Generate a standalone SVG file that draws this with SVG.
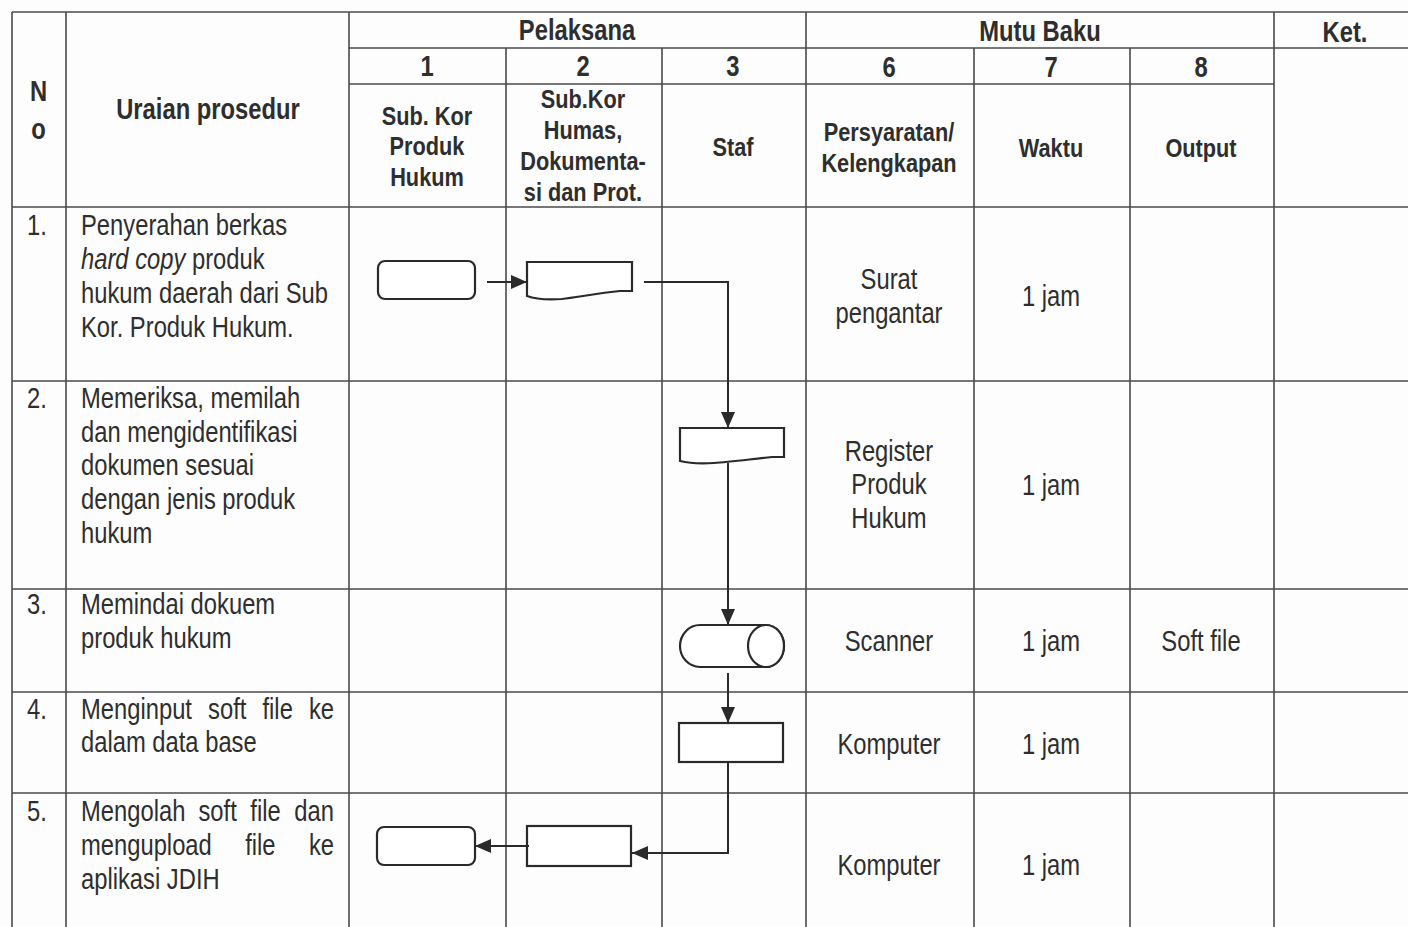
<svg xmlns="http://www.w3.org/2000/svg" width="1408" height="927" viewBox="0 0 1408 927">
<style>
.grid{stroke:#4a4a4a;stroke-width:1.6;fill:none}
.shape{stroke:#2a2a2a;stroke-width:2.2;fill:#ffffff}
.conn{stroke:#2a2a2a;stroke-width:2;fill:none}
text{font-family:"Liberation Sans",Arial,sans-serif;fill:#2e2e2e}
.h{font-weight:bold;font-size:29px;text-anchor:middle}
.hs{font-weight:bold;font-size:26.5px;text-anchor:middle}
.t{font-size:29px}
.c{font-size:29px;text-anchor:middle}
</style>
<defs>
<marker id="arr" viewBox="0 0 16 14" refX="16" refY="7" markerWidth="16" markerHeight="14" markerUnits="userSpaceOnUse" orient="auto">
<path d="M0,0 L16,7 L0,14 Z" fill="#2a2a2a"/>
</marker>
</defs>
<rect x="0" y="0" width="1408" height="927" fill="#fdfdfd"/>
<g id="table-grid" class="grid">
<line x1="12" y1="12" x2="1408" y2="12"/>
<line x1="349" y1="48" x2="1408" y2="48"/>
<line x1="349" y1="84" x2="1274" y2="84"/>
<line x1="12" y1="207" x2="1408" y2="207"/>
<line x1="12" y1="381" x2="1408" y2="381"/>
<line x1="12" y1="589" x2="1408" y2="589"/>
<line x1="12" y1="692" x2="1408" y2="692"/>
<line x1="12" y1="793" x2="1408" y2="793"/>
<line x1="12" y1="12" x2="12" y2="927"/>
<line x1="66" y1="12" x2="66" y2="927"/>
<line x1="349" y1="12" x2="349" y2="927"/>
<line x1="506" y1="48" x2="506" y2="927"/>
<line x1="662" y1="48" x2="662" y2="927"/>
<line x1="806" y1="12" x2="806" y2="927"/>
<line x1="974" y1="48" x2="974" y2="927"/>
<line x1="1130" y1="48" x2="1130" y2="927"/>
<line x1="1274" y1="12" x2="1274" y2="927"/>
</g>
<g id="header" transform="scale(0.82 1)">
<text class="h" x="47" y="101">N</text>
<text class="h" x="47" y="139">o</text>
<text class="h" x="253.66" y="119">Uraian prosedur</text>
<text class="h" x="703.66" y="40">Pelaksana</text>
<text class="h" x="1268.29" y="41">Mutu Baku</text>
<text class="h" x="1640.24" y="42">Ket.</text>
<text class="h" x="520.73" y="76">1</text>
<text class="h" x="710.98" y="76">2</text>
<text class="h" x="893.90" y="76">3</text>
<text class="h" x="1084.15" y="77">6</text>
<text class="h" x="1281.71" y="77">7</text>
<text class="h" x="1464.63" y="77">8</text>
<text class="hs" x="520.73" y="125">Sub. Kor</text>
<text class="hs" x="520.73" y="155">Produk</text>
<text class="hs" x="520.73" y="186">Hukum</text>
<text class="hs" x="710.98" y="108">Sub.Kor</text>
<text class="hs" x="710.98" y="139">Humas,</text>
<text class="hs" x="710.98" y="170">Dokumenta-</text>
<text class="hs" x="710.98" y="201">si dan Prot.</text>
<text class="hs" x="893.90" y="156">Staf</text>
<text class="hs" x="1084.15" y="141">Persyaratan/</text>
<text class="hs" x="1084.15" y="172">Kelengkapan</text>
<text class="hs" x="1281.71" y="157">Waktu</text>
<text class="hs" x="1464.63" y="157">Output</text>
</g>
<g id="row1" transform="scale(0.82 1)">
<text class="t" x="32.93" y="235">1.</text>
<text class="t" x="98.78" y="235">Penyerahan berkas</text>
<text class="t" x="98.78" y="269"><tspan font-style="italic">hard copy</tspan> produk</text>
<text class="t" x="98.78" y="303">hukum daerah dari Sub</text>
<text class="t" x="98.78" y="337">Kor. Produk Hukum.</text>
<text class="c" x="1084.15" y="289">Surat</text>
<text class="c" x="1084.15" y="323">pengantar</text>
<text class="c" x="1281.71" y="306">1 jam</text>
</g>
<g id="row2" transform="scale(0.82 1)">
<text class="t" x="32.93" y="408">2.</text>
<text class="t" x="98.78" y="408">Memeriksa, memilah</text>
<text class="t" x="98.78" y="442">dan mengidentifikasi</text>
<text class="t" x="98.78" y="475">dokumen sesuai</text>
<text class="t" x="98.78" y="509">dengan jenis produk</text>
<text class="t" x="98.78" y="543">hukum</text>
<text class="c" x="1084.15" y="461">Register</text>
<text class="c" x="1084.15" y="494">Produk</text>
<text class="c" x="1084.15" y="528">Hukum</text>
<text class="c" x="1281.71" y="495">1 jam</text>
</g>
<g id="row3" transform="scale(0.82 1)">
<text class="t" x="32.93" y="614">3.</text>
<text class="t" x="98.78" y="614">Memindai dokuem</text>
<text class="t" x="98.78" y="648">produk hukum</text>
<text class="c" x="1084.15" y="651">Scanner</text>
<text class="c" x="1281.71" y="651">1 jam</text>
<text class="c" x="1464.63" y="651">Soft file</text>
</g>
<g id="row4" transform="scale(0.82 1)">
<text class="t" x="32.93" y="719">4.</text>
<text class="t" y="719"><tspan x="98.78">Menginput</tspan><tspan x="253.78">soft</tspan><tspan x="320.12">file</tspan><tspan x="376.83">ke</tspan></text>
<text class="t" x="98.78" y="752">dalam data base</text>
<text class="c" x="1084.15" y="754">Komputer</text>
<text class="c" x="1281.71" y="754">1 jam</text>
</g>
<g id="row5" transform="scale(0.82 1)">
<text class="t" x="32.93" y="821">5.</text>
<text class="t" y="821"><tspan x="98.78">Mengolah</tspan><tspan x="242.07">soft</tspan><tspan x="305.24">file</tspan><tspan x="358.78">dan</tspan></text>
<text class="t" y="855"><tspan x="98.78">mengupload</tspan><tspan x="299.02">file</tspan><tspan x="376.71">ke</tspan></text>
<text class="t" x="98.78" y="889">aplikasi JDIH</text>
<text class="c" x="1084.15" y="875">Komputer</text>
<text class="c" x="1281.71" y="875">1 jam</text>
</g>
<g id="node-start" class="shape"><rect x="378" y="261" width="97" height="38" rx="7"/></g>
<g id="node-doc1" class="shape"><path d="M527,262 H632 V291 L620,291 C600,293 578,297 562,299 C548,300 535,299 527,296 Z"/></g>
<g id="node-doc2" class="shape"><path d="M680,428 H784 V457 L772,457 C752,459 730,462 714,463 C700,464 688,463 680,461 Z"/></g>
<g id="node-scan" class="shape"><path d="M700,625 H766 A18,21 0 0 1 766,667 H700 A20,21 0 0 1 700,625 Z"/><ellipse cx="766" cy="646" rx="18" ry="21"/></g>
<g id="node-input" class="shape"><rect x="679" y="723" width="104" height="39"/></g>
<g id="node-process" class="shape"><rect x="527" y="826" width="104" height="40"/></g>
<g id="node-end" class="shape"><rect x="377" y="827" width="98" height="38" rx="7"/></g>
<g id="connectors" class="conn">
<path d="M487,282 H527" marker-end="url(#arr)"/>
<path d="M644,282 H728 V428" marker-end="url(#arr)"/>
<path d="M728,463 V625" marker-end="url(#arr)"/>
<path d="M728,673 V723" marker-end="url(#arr)"/>
<path d="M728,762 V853 H632" marker-end="url(#arr)"/>
<path d="M529,846 H475" marker-end="url(#arr)"/>
</g>
</svg>
